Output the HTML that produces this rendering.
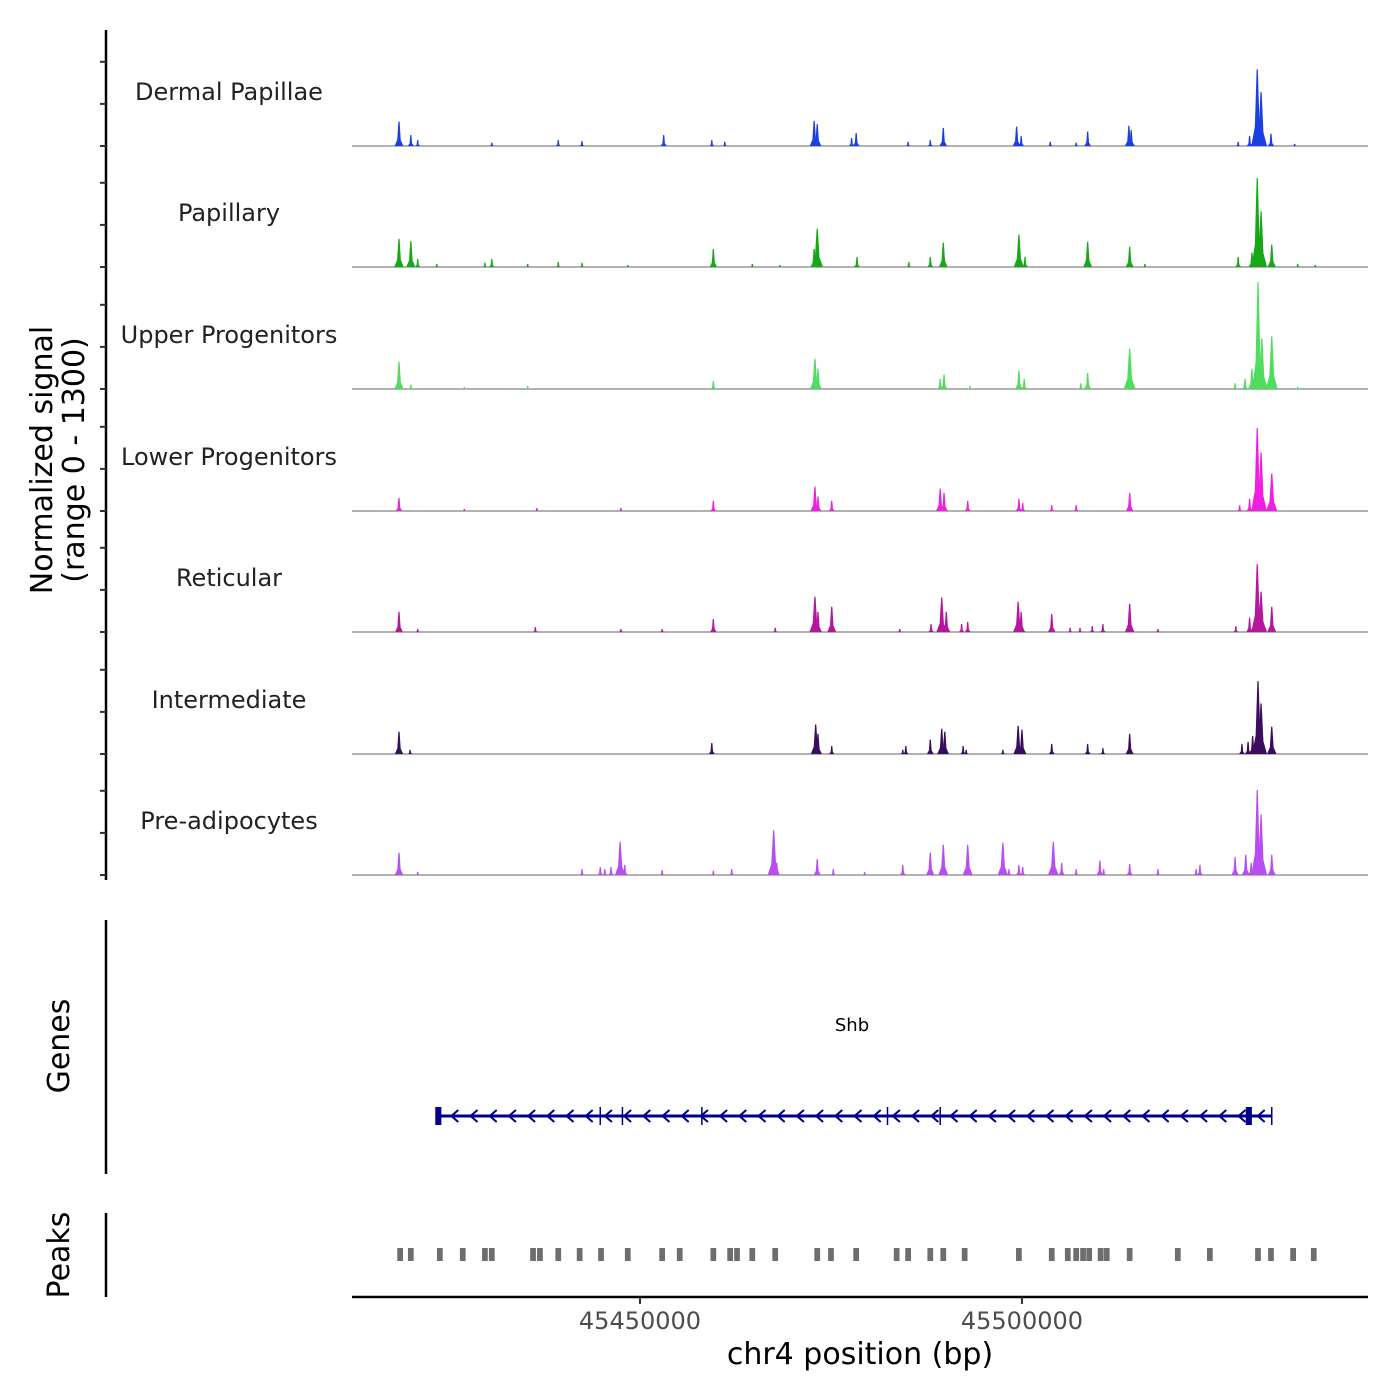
<!DOCTYPE html>
<html><head><meta charset="utf-8">
<style>
html,body{margin:0;padding:0;background:#fff;}
svg{display:block;font-family:"DejaVu Sans","Liberation Sans",sans-serif;}
</style></head>
<body>
<svg id="chart" width="1400" height="1400" viewBox="0 0 1400 1400" xmlns="http://www.w3.org/2000/svg">
<rect x="0" y="0" width="1400" height="1400" fill="#fff"/>
<g id="tracks"></g>
<g id="yaxis"></g>
<text transform="translate(52,460) rotate(-90)" text-anchor="middle" font-size="30" fill="#000">Normalized signal</text>
<text transform="translate(84,460) rotate(-90)" text-anchor="middle" font-size="30" fill="#000">(range 0 - 1300)</text>
<line x1="106" y1="920" x2="106" y2="1174" stroke="#000" stroke-width="2.5"/>
<text transform="translate(69,1046) rotate(-90)" text-anchor="middle" font-size="30" fill="#000">Genes</text>
<g id="genes"></g>
<line x1="106" y1="1213" x2="106" y2="1297" stroke="#000" stroke-width="2.5"/>
<text transform="translate(69,1255) rotate(-90)" text-anchor="middle" font-size="30" fill="#000">Peaks</text>
<g id="peaks"></g>
<g id="xaxis"></g>
<text x="860" y="1364" text-anchor="middle" font-size="30" fill="#000">chr4 position (bp)</text>
</svg>
<script>
// ---- data (positions in kb on chr4, values in normalized signal) ----
const trackNames = ["Dermal Papillae","Papillary","Upper Progenitors","Lower Progenitors","Reticular","Intermediate","Pre-adipocytes"];
const trackColors = ["#1c3fe0","#17a817","#4fdc5f","#f01ee0","#b5169e","#3b0c5e","#b84ef2"];
const pos0 = [45418.45,45420.0,45420.9,45430.6,45439.3,45442.4,45453.1,45459.4,45461.1,45472.8,45473.2,45477.7,45478.3,45485.1,45488.0,45489.7,45499.3,45499.9,45503.7,45507.1,45508.6,45514.0,45514.3,45528.3,45529.8,45530.8,45531.3,45532.6,45535.7];
const val0 = [290,130,70,40,70,60,130,70,50,300,260,95,155,50,70,215,230,120,50,40,170,240,190,50,120,910,640,145,25];
const pos1 = [45418.45,45420.0,45420.9,45423.4,45429.7,45430.6,45435.3,45439.3,45442.4,45448.4,45459.6,45464.7,45468.3,45472.8,45473.2,45478.4,45485.2,45488.0,45489.7,45499.6,45500.4,45508.6,45514.1,45516.1,45528.3,45530.1,45530.8,45531.3,45532.7,45536.1,45538.4];
const val1 = [335,310,95,35,50,95,35,60,50,25,215,35,25,215,455,120,60,120,290,385,120,300,240,35,120,170,1055,660,265,35,25];
const pos2 = [45418.45,45420.0,45427.0,45435.3,45459.6,45472.9,45473.3,45489.3,45489.8,45493.2,45499.6,45500.3,45507.7,45508.6,45514.1,45527.9,45529.2,45530.1,45530.9,45531.4,45532.7,45536.1];
const val2 = [325,50,25,35,95,360,240,120,170,35,215,120,70,190,480,70,120,240,1270,600,625,25];
const pos3 = [45418.45,45427.0,45436.5,45447.5,45459.6,45472.9,45473.3,45475.1,45489.3,45489.8,45492.9,45499.6,45500.1,45503.9,45507.1,45514.1,45528.5,45529.8,45530.8,45531.3,45532.7];
const val3 = [155,25,35,35,120,290,170,120,265,215,120,145,95,70,70,215,70,145,985,695,445];
const pos4 = [45418.45,45420.9,45436.3,45447.5,45452.9,45459.6,45467.7,45472.9,45473.3,45475.1,45484.0,45488.1,45489.5,45490.1,45492.1,45492.9,45499.5,45499.9,45503.9,45506.3,45507.6,45509.2,45510.6,45514.1,45517.8,45528.0,45529.8,45530.8,45531.3,45532.7];
const val4 = [240,35,60,35,35,155,50,420,240,300,35,95,410,240,95,120,360,240,215,50,50,70,95,335,35,70,170,805,480,300];
const pos5 = [45418.45,45419.9,45459.4,45473.0,45473.3,45475.1,45484.4,45484.8,45488.0,45489.5,45489.9,45492.3,45492.7,45497.5,45499.5,45500.0,45503.9,45508.6,45510.6,45514.1,45528.8,45529.6,45530.2,45530.9,45531.3,45532.7];
const val5 = [265,50,130,350,240,95,50,95,170,300,265,95,50,50,335,290,120,120,70,240,120,145,215,865,600,325];
const pos6 = [45418.45,45420.9,45442.4,45444.8,45445.4,45446.2,45447.4,45448.0,45452.9,45459.6,45462.0,45467.5,45467.9,45473.2,45475.3,45479.4,45484.4,45488.0,45489.7,45492.9,45497.5,45498.3,45499.6,45500.1,45504.1,45505.2,45507.1,45510.2,45510.7,45514.1,45517.8,45522.8,45523.3,45527.9,45529.3,45530.0,45530.8,45531.3,45532.7];
const val6 = [265,35,70,95,70,95,395,120,60,50,70,530,145,190,70,35,120,265,360,360,385,70,120,95,395,145,70,170,70,130,70,70,120,215,240,145,1010,720,240];
const trackPos = [pos0,pos1,pos2,pos3,pos4,pos5,pos6];
const trackVal = [val0,val1,val2,val3,val4,val5,val6];
const yTicks = [0,500,1000];
const peakCenters = [45418.6,45420.0,45423.8,45426.8,45429.7,45430.6,45436.0,45436.9,45439.3,45442.1,45444.9,45448.4,45452.9,45455.2,45459.6,45461.8,45462.7,45464.7,45467.7,45473.2,45475.0,45478.3,45483.6,45485.1,45488.0,45489.7,45492.5,45499.6,45503.9,45506.0,45507.1,45508.0,45508.8,45510.3,45511.1,45514.1,45520.4,45524.6,45530.9,45532.6,45535.5,45538.2];
const peakWidthKb = 0.75;
const geneName = "Shb";
const geneStart = 45423.6, geneEnd = 45532.7;
const exonPos = [45423.6,45444.8,45447.7,45458.1,45482.4,45489.3,45529.7,45532.7];
const exonWidth = [0.8,0.15,0.15,0.15,0.15,0.15,0.8,0.15];
const xTicks = [45450,45500];
const xTickLabels = ["45450000","45500000"];

// ---- scales ----
const X0=352, X1=1368, KB0=45412.3, KB1=45545.3;
function xs(kb){return X0+(kb-KB0)/(KB1-KB0)*(X1-X0);}
const baselines=[146,267,389,511,632,754,875];
const pxPerUnit=0.0842;
function ys(i,v){return baselines[i]-v*pxPerUnit;}
const NS="http://www.w3.org/2000/svg";
function mk(tag,attrs,parent){const e=document.createElementNS(NS,tag);for(const k in attrs)e.setAttribute(k,attrs[k]);parent.appendChild(e);return e;}

const tracksG=document.getElementById('tracks');
const yG=document.getElementById('yaxis');
mk('line',{x1:106,y1:30,x2:106,y2:880,stroke:'#000','stroke-width':2.5},yG);
for(let i=0;i<trackNames.length;i++){
  const g=mk('g',{},tracksG);
  
  
  const lab=mk('text',{x:229,y:baselines[i]-46,'text-anchor':'middle','font-size':24,fill:'#222'},g);
  lab.textContent=trackNames[i];
  
  
  const bl=mk('line',{x1:X0,y1:baselines[i],x2:X1,y2:baselines[i],stroke:'#666','stroke-width':1},g);
  
  
  const P=trackPos[i],V=trackVal[i];
  for(let j=0;j<P.length;j++){
    const cx=xs(P[j]),top=ys(i,V[j]),b=baselines[i];
    const w=Math.max(2.5,Math.min(6,V[j]/120+2));
    const d=`M${cx-w},${b} L${cx-w*0.4},${b-(b-top)*0.25} L${cx-0.6},${top} L${cx+0.6},${top} L${cx+w*0.4},${b-(b-top)*0.25} L${cx+w},${b} Z`;
    const pk=mk('path',{d:d,fill:trackColors[i]},g);
    
    
  }
  for(const t of yTicks){
    const y=ys(i,t);
    const tk=mk('line',{x1:100,y1:y,x2:106,y2:y,stroke:'#333','stroke-width':2},yG);
    
    
  }
}

// genes
const gG=document.getElementById('genes');
const gy=1116;
const gl=mk('line',{x1:xs(geneStart),y1:gy,x2:xs(geneEnd),y2:gy,stroke:'#00008b','stroke-width':3},gG);


for(let x=xs(geneStart)+16;x<xs(geneEnd)-4;x+=19.2){
  const ch=mk('path',{d:`M${x+4},${gy-6} L${x-3},${gy} L${x+4},${gy+6}`,stroke:'#00008b','stroke-width':2,fill:'none'},gG);
  
  
}
for(let k=0;k<exonPos.length;k++){
  const x=xs(exonPos[k]),w=Math.max(1.5,xs(exonPos[k]+exonWidth[k])-x);
  const ex=mk('rect',{x:x-w/2,y:gy-9,width:w,height:18,fill:'#00008b'},gG);
  
  
}
const gt=mk('text',{x:852,y:1031,'text-anchor':'middle','font-size':18,fill:'#000'},gG);
gt.textContent=geneName;



// peaks
const pG=document.getElementById('peaks');
for(const c of peakCenters){
  const x=xs(c-peakWidthKb/2),w=xs(c+peakWidthKb/2)-x;
  const r=mk('rect',{x:x,y:1248,width:w,height:13,fill:'#6e6e6e'},pG);
  
  
}

// x axis
const xG=document.getElementById('xaxis');
mk('line',{x1:X0,y1:1297,x2:X1,y2:1297,stroke:'#000','stroke-width':2.5},xG);
for(let k=0;k<xTicks.length;k++){
  const x=xs(xTicks[k]);
  const t=mk('line',{x1:x,y1:1297,x2:x,y2:1304,stroke:'#333','stroke-width':2},xG);
  
  
  const l=mk('text',{x:x,y:1329,'text-anchor':'middle','font-size':24,fill:'#4d4d4d'},xG);
  l.textContent=xTickLabels[k];
  
  
}
</script>
</body></html>
